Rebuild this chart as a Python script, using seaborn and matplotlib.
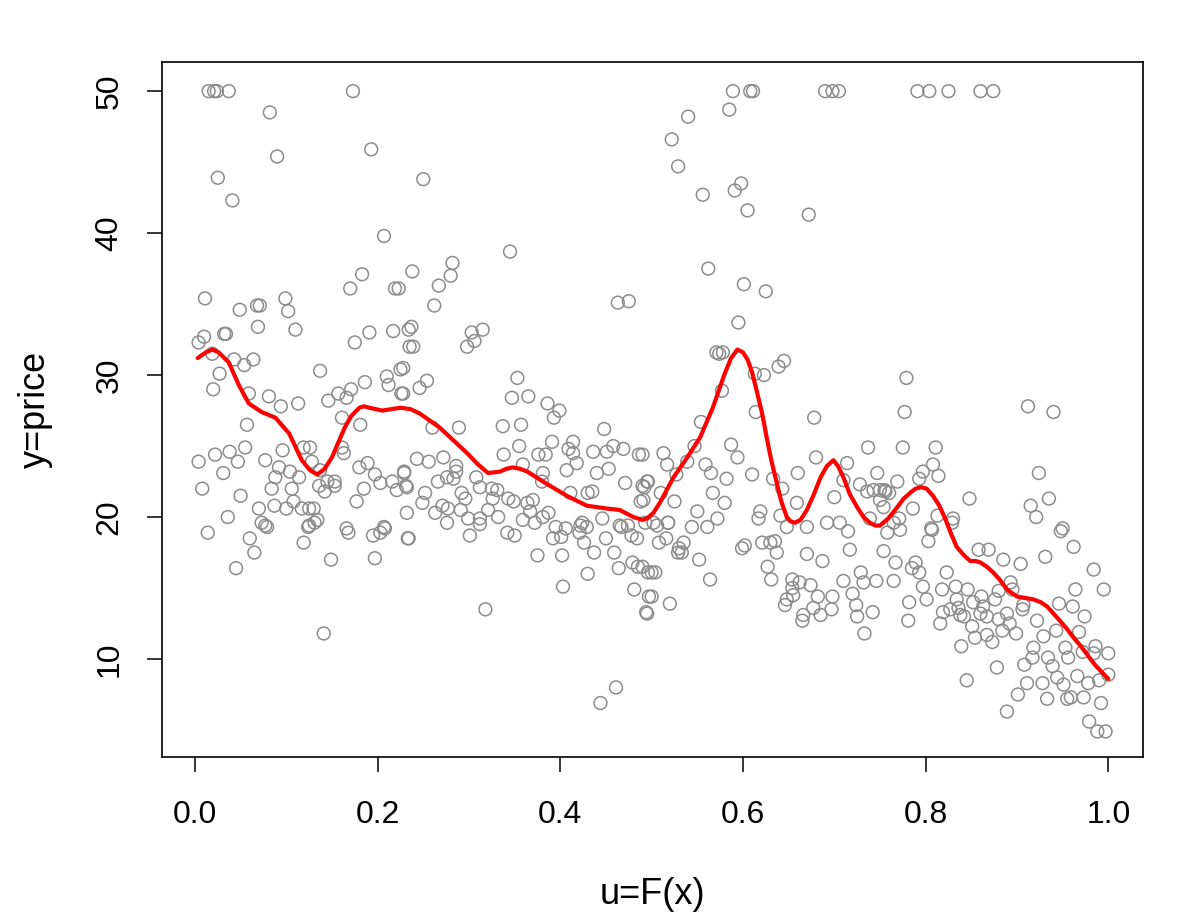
import numpy as np
import pandas as pd
import matplotlib
matplotlib.use("Agg")
import matplotlib.pyplot as plt
import seaborn as sns

# ------------------------------------------------------------
#  DATA
# ------------------------------------------------------------
u_top = [0.015, 0.021, 0.024, 0.037, 0.173, 0.589, 0.608, 0.611, 0.690, 0.698,
         0.705, 0.791, 0.804, 0.825, 0.860, 0.874]
y_top = [50] * 16

u_high = [0.082, 0.193, 0.090, 0.025, 0.041, 0.207, 0.183, 0.170, 0.219, 0.223,
          0.238, 0.250, 0.345, 0.282, 0.280, 0.267, 0.262, 0.463, 0.475,
          0.585, 0.540, 0.522, 0.529, 0.556, 0.591, 0.598, 0.605, 0.672,
          0.562, 0.601, 0.625]
y_high = [48.5, 45.9, 45.4, 43.9, 42.3, 39.8, 37.1, 36.1, 36.1, 36.1,
          37.3, 43.8, 38.7, 37.9, 37.0, 36.3, 34.9, 35.1, 35.2,
          48.7, 48.2, 46.6, 44.7, 42.7, 43.0, 43.5, 41.6, 41.3,
          37.5, 36.4, 35.9]

# left part, u < 0.24
u_left = [0.011, 0.049, 0.068, 0.071, 0.099, 0.102, 0.010, 0.032, 0.034, 0.069,
          0.110, 0.004, 0.019, 0.043, 0.054, 0.064, 0.027, 0.020, 0.059, 0.081,
          0.094, 0.113, 0.057, 0.004, 0.022, 0.038, 0.055, 0.047, 0.031, 0.008,
          0.050, 0.036, 0.077, 0.096, 0.092, 0.088, 0.084, 0.104, 0.114, 0.106,
          0.108, 0.087, 0.100, 0.070, 0.117, 0.125, 0.130, 0.134, 0.125, 0.073,
          0.119, 0.126, 0.128, 0.137, 0.146, 0.157, 0.166, 0.171, 0.186, 0.175,
          0.191, 0.217, 0.234, 0.235, 0.210, 0.212, 0.225, 0.226, 0.161, 0.181,
          0.161, 0.163, 0.137, 0.145, 0.153, 0.136, 0.142, 0.153, 0.180, 0.189,
          0.185, 0.177, 0.197, 0.203, 0.216, 0.229, 0.221, 0.232, 0.232, 0.166,
          0.207, 0.014, 0.060, 0.065, 0.045, 0.077, 0.079, 0.124, 0.131, 0.119,
          0.149, 0.168, 0.195, 0.203, 0.208, 0.197, 0.233, 0.141]
y_left = [35.4, 34.6, 34.9, 34.9, 35.4, 34.5, 32.7, 32.9, 32.9, 33.4,
          33.2, 32.3, 31.5, 31.1, 30.7, 31.1, 30.1, 29.0, 28.7, 28.5,
          27.8, 28.0, 26.5, 23.9, 24.4, 24.6, 24.9, 23.9, 23.1, 22.0,
          21.5, 20.0, 24.0, 24.7, 23.5, 22.8, 22.0, 23.2, 22.8, 22.0,
          21.1, 20.8, 20.6, 20.6, 20.6, 20.6, 20.6, 19.8, 19.4, 19.6,
          24.9, 24.9, 23.9, 30.3, 28.2, 28.7, 28.4, 29.0, 29.5, 32.3,
          33.0, 33.1, 33.2, 32.0, 29.9, 29.3, 30.4, 28.7, 27.0, 26.5,
          24.9, 24.5, 23.3, 22.5, 22.5, 22.2, 21.8, 22.2, 23.5, 23.8,
          22.0, 21.1, 23.0, 22.4, 22.5, 23.1, 21.9, 22.1, 20.3, 19.2,
          19.3, 18.9, 18.5, 17.5, 16.4, 19.4, 19.3, 19.3, 19.6, 18.2,
          17.0, 18.9, 18.7, 18.9, 19.2, 17.1, 18.5, 11.8]

# middle part, 0.23 < u < 0.5
u_mid = [0.237, 0.239, 0.303, 0.315, 0.306, 0.298, 0.228, 0.254, 0.246, 0.228,
         0.353, 0.347, 0.365, 0.386, 0.399, 0.393, 0.289, 0.260, 0.337, 0.357,
         0.448, 0.355, 0.391, 0.414, 0.414, 0.338, 0.376, 0.384, 0.409, 0.418,
         0.436, 0.451, 0.458, 0.469, 0.486, 0.243, 0.256, 0.272, 0.286, 0.229,
         0.231, 0.266, 0.276, 0.286, 0.283, 0.308, 0.312, 0.325, 0.331, 0.326,
         0.343, 0.349, 0.359, 0.381, 0.380, 0.407, 0.440, 0.453, 0.411, 0.430,
         0.435, 0.471, 0.490, 0.495, 0.488, 0.252, 0.249, 0.263, 0.271, 0.277,
         0.292, 0.296, 0.291, 0.299, 0.312, 0.321, 0.332, 0.276, 0.364, 0.370,
         0.367, 0.387, 0.359, 0.372, 0.381, 0.424, 0.446, 0.465, 0.234, 0.301,
         0.312, 0.342, 0.350, 0.395, 0.406, 0.392, 0.401, 0.422, 0.429, 0.421,
         0.426, 0.467, 0.474, 0.478, 0.484, 0.450, 0.459, 0.375, 0.402, 0.437,
         0.430, 0.403, 0.464, 0.479, 0.485, 0.496, 0.481, 0.497, 0.494, 0.318,
         0.461, 0.444]
y_mid = [33.4, 32.0, 33.0, 33.2, 32.4, 32.0, 30.5, 29.6, 29.1, 28.7,
         29.8, 28.4, 28.5, 28.0, 27.5, 27.0, 26.3, 26.3, 26.4, 26.5,
         26.2, 25.0, 25.3, 25.3, 24.5, 24.4, 24.4, 24.4, 24.8, 23.8,
         24.6, 24.6, 25.0, 24.8, 24.4, 24.1, 23.9, 24.2, 23.6, 23.2,
         22.2, 22.5, 22.8, 23.2, 22.7, 22.8, 22.1, 22.0, 21.9, 21.3,
         21.3, 21.1, 23.7, 23.1, 22.5, 23.3, 23.1, 23.4, 21.7, 21.7,
         21.8, 22.4, 22.2, 22.5, 21.1, 21.7, 21.0, 20.3, 20.8, 20.6,
         21.7, 21.3, 20.5, 19.9, 19.9, 20.5, 20.0, 19.6, 21.0, 21.2,
         20.4, 20.3, 19.8, 19.6, 20.0, 19.6, 19.9, 19.4, 18.5, 18.7,
         19.5, 18.9, 18.7, 19.3, 19.2, 18.5, 18.6, 19.4, 19.3, 18.9,
         18.2, 19.3, 19.4, 18.7, 18.5, 18.5, 17.5, 17.3, 17.3, 17.5,
         16.0, 15.1, 16.4, 16.8, 16.5, 16.1, 14.9, 14.4, 13.3, 13.5,
         8.0, 6.9]

# 0.49 < u < 0.76
u_mr = [0.595, 0.571, 0.578, 0.574, 0.639, 0.645, 0.613, 0.623, 0.577, 0.614,
        0.678, 0.554, 0.737, 0.587, 0.594, 0.547, 0.539, 0.513, 0.517, 0.490,
        0.559, 0.565, 0.582, 0.610, 0.680, 0.660, 0.714, 0.747, 0.527, 0.496,
        0.492, 0.633, 0.643, 0.710, 0.728, 0.736, 0.743, 0.750, 0.756, 0.510,
        0.491, 0.525, 0.567, 0.580, 0.659, 0.700, 0.750, 0.550, 0.572, 0.619,
        0.617, 0.641, 0.518, 0.502, 0.692, 0.706, 0.739, 0.544, 0.561, 0.648,
        0.670, 0.506, 0.518, 0.493, 0.508, 0.516, 0.530, 0.535, 0.533, 0.529,
        0.552, 0.500, 0.504, 0.490, 0.564, 0.500, 0.520, 0.495, 0.715, 0.758,
        0.599, 0.602, 0.621, 0.630, 0.635, 0.637, 0.670, 0.687, 0.717, 0.754,
        0.627, 0.631, 0.654, 0.662, 0.674, 0.682, 0.698, 0.654, 0.655, 0.648,
        0.646, 0.677, 0.666, 0.665, 0.685, 0.697, 0.710, 0.729, 0.732, 0.746,
        0.720, 0.724, 0.725, 0.742, 0.733]
y_mr = [33.7, 31.6, 31.6, 31.5, 30.6, 31.0, 30.1, 30.0, 28.9, 27.4,
        27.0, 26.7, 24.9, 25.1, 24.2, 25.0, 23.9, 24.5, 23.7, 24.4,
        23.7, 23.1, 22.7, 23.0, 24.2, 23.1, 23.8, 23.1, 23.0, 22.5,
        22.1, 22.7, 22.0, 22.6, 22.3, 21.8, 21.9, 21.9, 21.8, 21.7,
        21.2, 21.1, 21.7, 21.0, 21.0, 21.4, 21.2, 20.4, 19.9, 20.4,
        19.9, 20.1, 19.6, 19.6, 19.6, 19.6, 19.9, 19.3, 19.3, 19.3,
        19.3, 19.4, 19.6, 19.6, 18.2, 18.5, 17.8, 18.2, 17.5, 17.5,
        17.0, 16.1, 16.1, 16.5, 15.6, 14.4, 13.9, 13.2, 19.0, 18.9,
        17.8, 18.0, 18.2, 18.2, 18.3, 17.5, 17.4, 16.9, 17.7, 17.6,
        16.5, 15.6, 15.6, 15.4, 15.2, 14.4, 14.4, 15.0, 14.5, 14.2,
        13.8, 13.6, 13.1, 12.7, 13.1, 13.5, 15.5, 16.1, 15.4, 15.5,
        14.6, 13.8, 13.0, 13.3, 11.8]

# right part, u > 0.75
u_right = [0.779, 0.777, 0.912, 0.940, 0.775, 0.811, 0.808, 0.797, 0.814, 0.793,
           0.924, 0.769, 0.755, 0.760, 0.754, 0.848, 0.935, 0.915, 0.921, 0.786,
           0.813, 0.830, 0.771, 0.765, 0.806, 0.950, 0.772, 0.807, 0.803, 0.829,
           0.767, 0.765, 0.789, 0.785, 0.793, 0.797, 0.782, 0.781, 0.801, 0.823,
           0.818, 0.833, 0.846, 0.834, 0.819, 0.827, 0.836, 0.838, 0.816, 0.842,
           0.851, 0.854, 0.839, 0.845, 0.858, 0.869, 0.885, 0.904, 0.931, 0.948,
           0.962, 0.984, 0.964, 0.995, 0.861, 0.852, 0.863, 0.860, 0.876, 0.880,
           0.893, 0.895, 0.867, 0.880, 0.889, 0.907, 0.906, 0.867, 0.873, 0.884,
           0.892, 0.899, 0.878, 0.922, 0.929, 0.943, 0.946, 0.961, 0.974, 0.968,
           0.918, 0.917, 0.908, 0.934, 0.939, 0.953, 0.956, 0.972, 0.984, 0.986,
           1.000, 0.911, 0.928, 0.901, 0.889, 0.933, 0.944, 0.951, 0.966, 0.978,
           0.990, 0.955, 0.959, 0.973, 0.992, 0.979, 0.988, 0.997, 1.000]
y_right = [29.8, 27.4, 27.8, 27.4, 24.9, 24.9, 23.7, 23.2, 22.9, 22.7,
           23.1, 22.5, 21.9, 21.7, 20.7, 21.3, 21.3, 20.8, 20.0, 20.6,
           20.1, 19.9, 19.9, 19.6, 19.2, 19.2, 19.1, 19.1, 18.3, 19.6,
           16.8, 15.5, 16.8, 16.4, 16.1, 15.1, 14.0, 12.7, 14.2, 16.1,
           14.9, 15.1, 14.9, 14.2, 13.3, 13.5, 13.6, 13.1, 12.5, 13.0,
           12.3, 11.5, 10.9, 8.5, 17.7, 17.7, 17.0, 16.7, 17.2, 19.0,
           17.9, 16.3, 14.9, 14.9, 14.4, 14.0, 13.7, 13.2, 14.2, 14.8,
           15.4, 14.9, 13.0, 12.8, 13.2, 13.8, 13.5, 11.7, 11.2, 12.0,
           12.5, 11.8, 9.4, 12.7, 11.6, 12.0, 13.9, 13.7, 13.0, 11.9,
           10.8, 10.1, 9.6, 10.1, 9.5, 10.8, 10.1, 10.5, 10.4, 10.9,
           10.4, 8.3, 8.3, 7.5, 6.3, 7.2, 8.7, 8.2, 8.8, 8.3,
           8.5, 7.2, 7.3, 7.3, 6.9, 5.6, 4.9, 4.9, 8.9]

# smoothed red curve
u_smooth = [0.003, 0.012, 0.019, 0.026, 0.037, 0.048, 0.059, 0.073, 0.088, 0.103,
            0.117, 0.126, 0.134, 0.142, 0.150, 0.164, 0.171, 0.180, 0.185, 0.191,
            0.205, 0.215, 0.225, 0.236, 0.246, 0.268, 0.298, 0.310, 0.321, 0.334,
            0.341, 0.348, 0.356, 0.364, 0.381, 0.407, 0.429, 0.451, 0.465, 0.480,
            0.490, 0.495, 0.502, 0.509, 0.524, 0.539, 0.553, 0.567, 0.580, 0.587,
            0.594, 0.600, 0.605, 0.610, 0.615, 0.621, 0.626, 0.631, 0.637, 0.642,
            0.648, 0.652, 0.657, 0.663, 0.670, 0.677, 0.685, 0.692, 0.699, 0.704,
            0.710, 0.717, 0.725, 0.732, 0.739, 0.745, 0.750, 0.759, 0.769, 0.776,
            0.783, 0.789, 0.795, 0.801, 0.808, 0.815, 0.822, 0.828, 0.834, 0.842,
            0.849, 0.855, 0.860, 0.867, 0.874, 0.881, 0.889, 0.900, 0.909, 0.918,
            0.926, 0.933, 0.940, 0.947, 0.955, 0.962, 0.970, 0.977, 0.984, 0.991,
            1.000]
y_smooth = [31.2, 31.6, 31.8, 31.6, 30.9, 29.3, 28.0, 27.4, 27.0, 25.9,
            24.0, 23.3, 23.0, 23.4, 24.2, 26.3, 27.1, 27.7, 27.8, 27.7,
            27.5, 27.6, 27.7, 27.6, 27.3, 26.3, 24.5, 23.7, 23.1, 23.2,
            23.4, 23.5, 23.4, 23.2, 22.5, 21.5, 20.8, 20.6, 20.5, 20.0,
            19.8, 19.9, 20.3, 21.0, 22.8, 24.2, 25.6, 27.7, 30.1, 31.2,
            31.8, 31.6, 31.1, 30.2, 28.9, 27.3, 25.6, 24.0, 22.4, 21.1,
            20.0, 19.7, 19.6, 19.8, 20.5, 21.5, 22.8, 23.6, 24.0, 23.6,
            22.8, 21.6, 20.7, 20.0, 19.6, 19.4, 19.4, 19.9, 20.7, 21.3,
            21.7, 22.0, 22.1, 22.0, 21.5, 20.8, 19.8, 18.8, 17.9, 17.3,
            16.9, 16.9, 16.8, 16.5, 16.1, 15.6, 14.9, 14.4, 14.3, 14.2,
            14.0, 13.7, 13.2, 12.7, 12.1, 11.5, 10.9, 10.3, 9.7, 9.2,
            8.6]

x_ticks = [0.0, 0.2, 0.4, 0.6, 0.8, 1.0]
y_ticks = [10, 20, 30, 40, 50]

# ------------------------------------------------------------
#  FIGURE
# ------------------------------------------------------------
sns.set_style("white")
plt.rcParams["font.family"] = ["Liberation Sans", "DejaVu Sans"]

points = pd.DataFrame({
    "u": u_top + u_high + u_left + u_mid + u_mr + u_right,
    "price": y_top + y_high + y_left + y_mid + y_mr + y_right,
})
courbe = pd.DataFrame({"u": u_smooth, "price": y_smooth})

fig = plt.figure(figsize=(11.96, 9.19), dpi=100)
ax = fig.add_axes([0.1355, 0.1763, 0.8202, 0.7562])

sns.scatterplot(data=points, x="u", y="price", ax=ax,
                marker="o", s=85, facecolors="none",
                edgecolor="#8c8c8c", linewidth=1.1, legend=False)
sns.lineplot(data=courbe, x="u", y="price", ax=ax,
             color="red", lw=3.0, sort=True, estimator=None)

ax.set_xlim(-0.036, 1.038)
ax.set_ylim(3.1, 52.05)
ax.set_xticks(x_ticks)
ax.set_xticklabels([f"{t:.1f}" for t in x_ticks])
ax.set_yticks(y_ticks)
ax.set_yticklabels([str(t) for t in y_ticks], rotation=90, va="center")

for side in ax.spines.values():
    side.set_visible(True)
    side.set_color("black")
    side.set_linewidth(1.2)

ax.tick_params(axis="both", direction="out", length=11, width=1.1,
               labelsize=23, color="black", labelcolor="black",
               bottom=True, left=True)
ax.tick_params(axis="x", pad=20)
ax.tick_params(axis="y", pad=16)

ax.set_xlabel("u=F(x)", fontsize=26, labelpad=34, color="black")
ax.set_ylabel("y=price", fontsize=26, labelpad=30, color="black")

plt.savefig("out.png", dpi=100)
plt.close()
